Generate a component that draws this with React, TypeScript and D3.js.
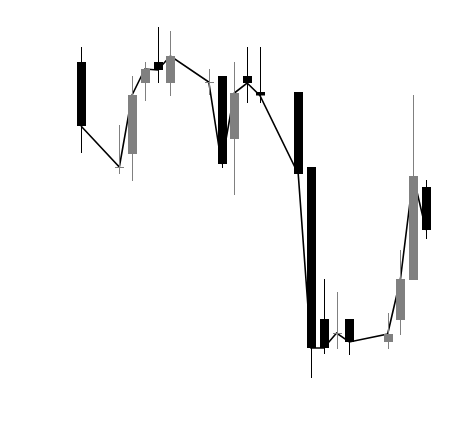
import { useEffect, useRef } from "react";
import * as d3 from "d3";

// trading days (weekends skipped)
const dates = [
  "2024-01-05",
  "2024-01-08", "2024-01-09", "2024-01-10", "2024-01-11", "2024-01-12",
  "2024-01-15", "2024-01-16", "2024-01-17", "2024-01-18", "2024-01-19",
  "2024-01-22", "2024-01-23", "2024-01-24", "2024-01-25", "2024-01-26",
  "2024-01-29", "2024-01-30", "2024-01-31", "2024-02-01",
];
const opens = [33.8, 23.25, 24.6, 31.7, 33.8, 31.7, 31.75, 32.4, 26.1, 32.4, 30.8, 30.8, 23.3, 8.1, 6.65, 8.1, 5.8, 8.0, 12.0, 21.3];
const highs = [35.3, 27.5, 32.4, 33.8, 37.3, 36.9, 33.1, 32.4, 33.8, 35.3, 35.3, 30.8, 23.3, 12.1, 10.8, 8.1, 8.7, 15.0, 30.5, 22.0];
const lows = [24.7, 22.6, 21.9, 29.9, 31.7, 30.4, 30.5, 23.2, 20.5, 29.7, 29.7, 22.6, 2.2, 4.6, 5.1, 4.5, 5.1, 6.5, 12.0, 16.1];
const closes = [27.4, 23.3, 30.5, 33.1, 33.0, 34.4, 31.8, 23.6, 30.7, 31.7, 30.45, 22.6, 5.2, 5.2, 6.7, 5.8, 6.6, 12.1, 22.4, 17.0];

const width = 456;
const height = 446;

export default function App() {
  const svgRef = useRef<SVGSVGElement | null>(null);

  useEffect(() => {
    const svg = d3.select(svgRef.current);
    svg.selectAll("*").remove();

    const parse = d3.utcParse("%Y-%m-%d");
    const data = dates.map((d, i) => ({
      date: parse(d),
      open: opens[i],
      high: highs[i],
      low: lows[i],
      close: closes[i],
    }));

    const x = d3.scaleUtc()
      .domain(d3.extent(data, d => d.date) as [Date, Date])
      .range([81, 426]);

    const y = d3.scaleLinear()
      .domain([0, 40])
      .range([400, 0]);

    const bodyW = 9;
    const color = d => (d.close >= d.open ? "#808080" : "#000000");

    // close line sits under the candles
    const line = d3.line<any>()
      .x(d => x(d.date))
      .y(d => y(d.close));

    svg.append("path")
      .datum(data)
      .attr("d", line)
      .attr("fill", "none")
      .attr("stroke", "#000")
      .attr("stroke-width", 1.6);

    const g = svg.append("g")
      .selectAll("g")
      .data(data)
      .join("g");

    // wicks
    g.append("line")
      .attr("x1", d => Math.round(x(d.date)) + 0.5)
      .attr("x2", d => Math.round(x(d.date)) + 0.5)
      .attr("y1", d => y(d.high))
      .attr("y2", d => y(d.low))
      .attr("stroke", color)
      .attr("stroke-width", 1);

    // bodies
    g.append("rect")
      .attr("x", d => Math.round(x(d.date)) + 0.5 - bodyW / 2)
      .attr("width", bodyW)
      .attr("y", d => y(Math.max(d.open, d.close)))
      .attr("height", d => Math.max(1, Math.abs(y(d.open) - y(d.close))))
      .attr("fill", color);
  }, []);

  return (
    <div style={{ position: "fixed", left: 0, top: 0, width, height, background: "#fff" }}>
      <svg ref={svgRef} width={width} height={height} />
    </div>
  );
}
